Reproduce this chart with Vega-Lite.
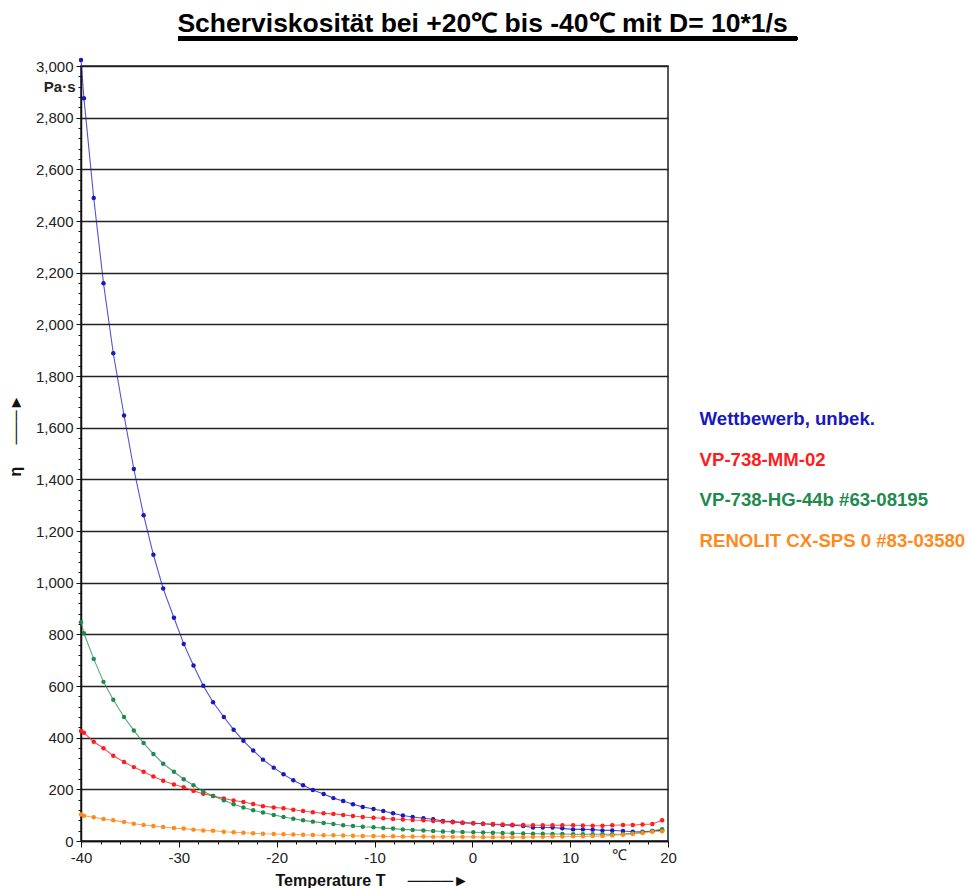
{
"$schema":"https://vega.github.io/schema/vega-lite/v6.json",
"autosize":"none",
"width":587,"height":775,
"padding":{"left":81,"top":66,"right":299,"bottom":47},
"background":"white",
"title":{"text":"Scherviskosit\u00e4t bei +20\u2103 bis -40\u2103 mit D= 10*1/s","anchor":"middle","dx":108,"offset":-22,"baseline":"alphabetic","font":"Liberation Sans","fontSize":26.5,"fontWeight":"bold","color":"#000"},
"config":{"view":{"stroke":"#222","strokeWidth":1.5},"axis":{"labelFont":"Liberation Sans","titleFont":"Liberation Sans","labelColor":"#222","domainColor":"#111","domainWidth":1.5,"tickColor":"#111"}},
"resolve":{"axis":{"x":"independent","y":"independent"}},
"data":{"values":[
{"s":"W","T":-40,"v":3023},{"s":"W","T":-39.7,"v":2875},{"s":"W","T":-38.7,"v":2489},{"s":"W","T":-37.7,"v":2159},{"s":"W","T":-36.7,"v":1888},{"s":"W","T":-35.6,"v":1647},{"s":"W","T":-34.6,"v":1440},{"s":"W","T":-33.6,"v":1261},{"s":"W","T":-32.6,"v":1108},{"s":"W","T":-31.6,"v":977},{"s":"W","T":-30.5,"v":864},{"s":"W","T":-29.5,"v":763},{"s":"W","T":-28.5,"v":679},{"s":"W","T":-27.5,"v":601},{"s":"W","T":-26.5,"v":537},{"s":"W","T":-25.4,"v":480},{"s":"W","T":-24.4,"v":431},{"s":"W","T":-23.4,"v":388},{"s":"W","T":-22.4,"v":350},{"s":"W","T":-21.4,"v":315},{"s":"W","T":-20.3,"v":284},{"s":"W","T":-19.3,"v":258},{"s":"W","T":-18.3,"v":235},{"s":"W","T":-17.3,"v":216},{"s":"W","T":-16.3,"v":197},{"s":"W","T":-15.2,"v":182},{"s":"W","T":-14.2,"v":166},{"s":"W","T":-13.2,"v":155},{"s":"W","T":-12.2,"v":142},{"s":"W","T":-11.2,"v":132},{"s":"W","T":-10.1,"v":124},{"s":"W","T":-9.1,"v":116},{"s":"W","T":-8.1,"v":107},{"s":"W","T":-7.1,"v":99},{"s":"W","T":-6.1,"v":93},{"s":"W","T":-5.0,"v":88},{"s":"W","T":-4.0,"v":84},{"s":"W","T":-3.0,"v":77},{"s":"W","T":-2.0,"v":75},{"s":"W","T":-1.0,"v":71},{"s":"W","T":0.1,"v":69},{"s":"W","T":1.1,"v":67},{"s":"W","T":2.1,"v":64},{"s":"W","T":3.1,"v":62},{"s":"W","T":4.1,"v":61},{"s":"W","T":5.2,"v":58},{"s":"W","T":6.2,"v":52},{"s":"W","T":7.2,"v":52},{"s":"W","T":8.2,"v":52},{"s":"W","T":9.2,"v":49},{"s":"W","T":10.3,"v":45},{"s":"W","T":11.3,"v":45},{"s":"W","T":12.3,"v":44},{"s":"W","T":13.3,"v":41},{"s":"W","T":14.3,"v":41},{"s":"W","T":15.4,"v":39},{"s":"W","T":16.4,"v":36},{"s":"W","T":17.4,"v":36},{"s":"W","T":18.4,"v":39},{"s":"W","T":19.4,"v":42},
{"s":"M","T":-40,"v":426},{"s":"M","T":-39.7,"v":419},{"s":"M","T":-38.7,"v":384},{"s":"M","T":-37.7,"v":359},{"s":"M","T":-36.7,"v":330},{"s":"M","T":-35.6,"v":306},{"s":"M","T":-34.6,"v":286},{"s":"M","T":-33.6,"v":268},{"s":"M","T":-32.6,"v":250},{"s":"M","T":-31.6,"v":233},{"s":"M","T":-30.5,"v":219},{"s":"M","T":-29.5,"v":208},{"s":"M","T":-28.5,"v":194},{"s":"M","T":-27.5,"v":183},{"s":"M","T":-26.5,"v":174},{"s":"M","T":-25.4,"v":165},{"s":"M","T":-24.4,"v":157},{"s":"M","T":-23.4,"v":151},{"s":"M","T":-22.4,"v":143},{"s":"M","T":-21.4,"v":135},{"s":"M","T":-20.3,"v":130},{"s":"M","T":-19.3,"v":127},{"s":"M","T":-18.3,"v":121},{"s":"M","T":-17.3,"v":116},{"s":"M","T":-16.3,"v":111},{"s":"M","T":-15.2,"v":107},{"s":"M","T":-14.2,"v":105},{"s":"M","T":-13.2,"v":101},{"s":"M","T":-12.2,"v":97},{"s":"M","T":-11.2,"v":93},{"s":"M","T":-10.1,"v":90},{"s":"M","T":-9.1,"v":88},{"s":"M","T":-8.1,"v":85},{"s":"M","T":-7.1,"v":83},{"s":"M","T":-6.1,"v":81},{"s":"M","T":-5.0,"v":80},{"s":"M","T":-4.0,"v":77},{"s":"M","T":-3.0,"v":75},{"s":"M","T":-2.0,"v":73},{"s":"M","T":-1.0,"v":71},{"s":"M","T":0.1,"v":69},{"s":"M","T":1.1,"v":67},{"s":"M","T":2.1,"v":66},{"s":"M","T":3.1,"v":64},{"s":"M","T":4.1,"v":63},{"s":"M","T":5.2,"v":62},{"s":"M","T":6.2,"v":61},{"s":"M","T":7.2,"v":61},{"s":"M","T":8.2,"v":61},{"s":"M","T":9.2,"v":61},{"s":"M","T":10.3,"v":61},{"s":"M","T":11.3,"v":60},{"s":"M","T":12.3,"v":59},{"s":"M","T":13.3,"v":59},{"s":"M","T":14.3,"v":61},{"s":"M","T":15.4,"v":62},{"s":"M","T":16.4,"v":62},{"s":"M","T":17.4,"v":64},{"s":"M","T":18.4,"v":66},{"s":"M","T":19.4,"v":80},
{"s":"H","T":-40,"v":847},{"s":"H","T":-39.7,"v":804},{"s":"H","T":-38.7,"v":705},{"s":"H","T":-37.7,"v":616},{"s":"H","T":-36.7,"v":547},{"s":"H","T":-35.6,"v":480},{"s":"H","T":-34.6,"v":428},{"s":"H","T":-33.6,"v":379},{"s":"H","T":-32.6,"v":337},{"s":"H","T":-31.6,"v":299},{"s":"H","T":-30.5,"v":268},{"s":"H","T":-29.5,"v":239},{"s":"H","T":-28.5,"v":216},{"s":"H","T":-27.5,"v":192},{"s":"H","T":-26.5,"v":174},{"s":"H","T":-25.4,"v":158},{"s":"H","T":-24.4,"v":142},{"s":"H","T":-23.4,"v":130},{"s":"H","T":-22.4,"v":119},{"s":"H","T":-21.4,"v":110},{"s":"H","T":-20.3,"v":101},{"s":"H","T":-19.3,"v":93},{"s":"H","T":-18.3,"v":86},{"s":"H","T":-17.3,"v":80},{"s":"H","T":-16.3,"v":75},{"s":"H","T":-15.2,"v":70},{"s":"H","T":-14.2,"v":66},{"s":"H","T":-13.2,"v":61},{"s":"H","T":-12.2,"v":58},{"s":"H","T":-11.2,"v":55},{"s":"H","T":-10.1,"v":53},{"s":"H","T":-9.1,"v":50},{"s":"H","T":-8.1,"v":48},{"s":"H","T":-7.1,"v":45},{"s":"H","T":-6.1,"v":43},{"s":"H","T":-5.0,"v":41},{"s":"H","T":-4.0,"v":39},{"s":"H","T":-3.0,"v":37},{"s":"H","T":-2.0,"v":36},{"s":"H","T":-1.0,"v":35},{"s":"H","T":0.1,"v":34},{"s":"H","T":1.1,"v":33},{"s":"H","T":2.1,"v":32},{"s":"H","T":3.1,"v":31},{"s":"H","T":4.1,"v":30},{"s":"H","T":5.2,"v":29},{"s":"H","T":6.2,"v":28},{"s":"H","T":7.2,"v":28},{"s":"H","T":8.2,"v":27},{"s":"H","T":9.2,"v":27},{"s":"H","T":10.3,"v":26},{"s":"H","T":11.3,"v":26},{"s":"H","T":12.3,"v":26},{"s":"H","T":13.3,"v":26},{"s":"H","T":14.3,"v":26},{"s":"H","T":15.4,"v":27},{"s":"H","T":16.4,"v":30},{"s":"H","T":17.4,"v":34},{"s":"H","T":18.4,"v":39},{"s":"H","T":19.4,"v":46},
{"s":"R","T":-40,"v":103},{"s":"R","T":-39.7,"v":98},{"s":"R","T":-38.7,"v":92},{"s":"R","T":-37.7,"v":85},{"s":"R","T":-36.7,"v":80},{"s":"R","T":-35.6,"v":74},{"s":"R","T":-34.6,"v":67},{"s":"R","T":-33.6,"v":62},{"s":"R","T":-32.6,"v":58},{"s":"R","T":-31.6,"v":54},{"s":"R","T":-30.5,"v":50},{"s":"R","T":-29.5,"v":48},{"s":"R","T":-28.5,"v":44},{"s":"R","T":-27.5,"v":41},{"s":"R","T":-26.5,"v":40},{"s":"R","T":-25.4,"v":36},{"s":"R","T":-24.4,"v":34},{"s":"R","T":-23.4,"v":32},{"s":"R","T":-22.4,"v":30},{"s":"R","T":-21.4,"v":28},{"s":"R","T":-20.3,"v":27},{"s":"R","T":-19.3,"v":26},{"s":"R","T":-18.3,"v":25},{"s":"R","T":-17.3,"v":24},{"s":"R","T":-16.3,"v":23},{"s":"R","T":-15.2,"v":22},{"s":"R","T":-14.2,"v":22},{"s":"R","T":-13.2,"v":21},{"s":"R","T":-12.2,"v":20},{"s":"R","T":-11.2,"v":19},{"s":"R","T":-10.1,"v":19},{"s":"R","T":-9.1,"v":18},{"s":"R","T":-8.1,"v":18},{"s":"R","T":-7.1,"v":17},{"s":"R","T":-6.1,"v":17},{"s":"R","T":-5.0,"v":17},{"s":"R","T":-4.0,"v":16},{"s":"R","T":-3.0,"v":16},{"s":"R","T":-2.0,"v":16},{"s":"R","T":-1.0,"v":16},{"s":"R","T":0.1,"v":16},{"s":"R","T":1.1,"v":15},{"s":"R","T":2.1,"v":15},{"s":"R","T":3.1,"v":15},{"s":"R","T":4.1,"v":15},{"s":"R","T":5.2,"v":15},{"s":"R","T":6.2,"v":16},{"s":"R","T":7.2,"v":16},{"s":"R","T":8.2,"v":17},{"s":"R","T":9.2,"v":17},{"s":"R","T":10.3,"v":18},{"s":"R","T":11.3,"v":18},{"s":"R","T":12.3,"v":19},{"s":"R","T":13.3,"v":19},{"s":"R","T":14.3,"v":21},{"s":"R","T":15.4,"v":24},{"s":"R","T":16.4,"v":27},{"s":"R","T":17.4,"v":31},{"s":"R","T":18.4,"v":36},{"s":"R","T":19.4,"v":38}
]},
"layer":[
{"encoding":{
"x":{"field":"T","type":"quantitative","scale":{"domain":[-40,20],"nice":false,"zero":false},
"axis":{"values":[-40,-38,-36,-34,-32,-30,-28,-26,-24,-22,-20,-18,-16,-14,-12,-10,-8,-6,-4,-2,0,2,4,6,8,10,12,14,15,16,18,20],
"labelExpr":"datum.value === 15 ? '\u2103' : (datum.value % 10 === 0 ? '' + datum.value : '')",
"labelFontSize":15,"labelOverlap":false,"labelFlush":false,"labelPadding":3,"grid":false,
"tickSize":{"condition":{"test":"datum.value % 10 === 0","value":6},"value":3},
"tickOpacity":{"condition":{"test":"datum.value === 15","value":0},"value":1},
"title":"Temperature T\u00a0\u00a0\u00a0\u00a0\u00a0\u2500\u2500\u2500\u2500\u25ba","titleFontSize":16,"titleFontWeight":"bold","titleColor":"#111","titleX":194,"titleY":39,"titleAlign":"left","titleBaseline":"middle"}},
"y":{"field":"v","type":"quantitative","scale":{"domain":[0,3000],"nice":false},
"axis":{"values":[0,40,80,120,160,200,240,280,320,360,400,440,480,520,560,600,640,680,720,760,800,840,880,920,960,1000,1040,1080,1120,1160,1200,1240,1280,1320,1360,1400,1440,1480,1520,1560,1600,1640,1680,1720,1760,1800,1840,1880,1920,1960,2000,2040,2080,2120,2160,2200,2240,2280,2320,2360,2400,2440,2480,2520,2560,2600,2640,2680,2720,2760,2800,2840,2880,2920,2960,3000],
"labelExpr":"datum.value === 2920 ? 'Pa\u00b7s' : (datum.value % 200 === 0 ? format(datum.value, ',') : '')",
"labelFontSize":15,"labelOverlap":false,"labelPadding":3,
"labelFontWeight":{"condition":{"test":"datum.value === 2920","value":"bold"},"value":"normal"},
"grid":true,"gridColor":"#222","gridWidth":1.5,
"gridOpacity":{"condition":{"test":"datum.value % 200 === 0","value":1},"value":0},
"tickSize":{"condition":{"test":"datum.value % 200 === 0","value":5},"value":3},
"title":"\u03b7\u00a0\u00a0\u00a0\u00a0\u00a0\u2500\u2500\u2500\u25ba","titleFontSize":16,"titleFontWeight":"bold","titleColor":"#111","titleAngle":-90,"titleX":-66,"titleY":410,"titleAlign":"left","titleBaseline":"middle"}},
"color":{"field":"s","type":"nominal","scale":{"domain":["W","M","H","R"],"range":["#1818c0","#ff1c1c","#1f8a4e","#ff8a1c"]},
"legend":{"orient":"none","legendX":600,"legendY":344,"title":null,"symbolSize":0,"symbolOpacity":0,"symbolStrokeWidth":0,"labelOffset":0,"labelFont":"Liberation Sans","labelFontSize":18.6,"labelFontWeight":"bold","labelLimit":400,"rowPadding":21.4,
"labelExpr":"datum.value === 'W' ? 'Wettbewerb, unbek.' : datum.value === 'M' ? 'VP-738-MM-02' : datum.value === 'H' ? 'VP-738-HG-44b #63-08195' : 'RENOLIT CX-SPS 0 #83-03580'",
"encode":{"labels":{"update":{"fill":{"scale":"color","field":"value"}}}}}}
},
"layer":[
{"mark":{"type":"line","strokeWidth":1.1,"opacity":0.75}},
{"mark":{"type":"point","filled":true,"size":20,"opacity":1}}
]},
{"mark":{"type":"rule","strokeWidth":4,"color":"#000"},
 "encoding":{"x":{"datum":-30.08,"type":"quantitative","axis":null},"x2":{"datum":33.19},"y":{"datum":3105.7,"type":"quantitative","axis":null}}}
]
}
